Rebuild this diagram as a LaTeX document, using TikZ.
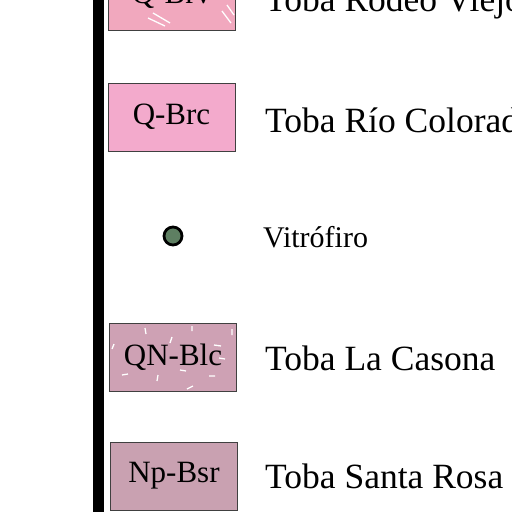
\documentclass[tikz,border=0pt]{standalone}
\usepackage{fontspec}
\setmainfont{Liberation Serif}
\usepackage{xcolor}
\definecolor{brvpink}{RGB}{241,168,190}
\definecolor{brcpink}{RGB}{243,170,204}
\definecolor{blcmauve}{RGB}{206,161,180}
\definecolor{bsrmauve}{RGB}{201,161,177}
\definecolor{vitgreen}{RGB}{94,127,98}

\begin{document}
\begin{tikzpicture}[
    x=1pt, y=-1pt,
    unitbox/.style={draw=black!75, line width=0.8pt, minimum width=127pt, minimum height=68pt, inner sep=0pt, font=\fontsize{31}{34}\selectfont},
    legendtext/.style={anchor=base west, inner sep=0pt, font=\fontsize{35.5}{40}\selectfont},
    speck/.style={white, line width=1.3pt},
]
\useasboundingbox (0,0) rectangle (512,512);
\clip (0,0) rectangle (512,512);

% column bar
\fill[black] (93,-2) rectangle (104,514);

% units
\node[unitbox, fill=brvpink] (brv) at (171.5,-4) {Q-Brv};
\node[unitbox, fill=brcpink] (brc) at (171.5,117) {Q-Brc};
\node[circle, draw=black, line width=2.8pt, fill=vitgreen, minimum size=18pt, inner sep=0pt] (vit) at (173,236) {};
\node[unitbox, fill=blcmauve] (blc) at (173,357) {QN-Blc};
\node[unitbox, fill=bsrmauve] (bsr) at (174,476) {Np-Bsr};

% streaks
\draw[speck] (148,18) -- (165,26) (153,13) -- (170,23) (222,11) -- (231,23) (227,5) -- (234,15);
\draw[speck] (145,328) -- (146,334) (170,343) -- (172,337) (192,326) -- (192,331)
  (232,329) -- (232,335) (112,349) -- (114,344) (214,345) -- (221,346)
  (122,375) -- (128,374) (157,381) -- (158,375) (180,370) -- (186,371)
  (209,376) -- (215,376) (187,389) -- (193,386) (219,358) -- (225,359);

% labels
\node[legendtext] (brvtxt) at (265,11) {Toba Rodeo Viejo};
\node[legendtext] (brctxt) at (265,132) {Toba Río Colorado};
\node[legendtext, font=\fontsize{30}{33}\selectfont] (vittxt) at (263,247) {Vitrófiro};
\node[legendtext] (blctxt) at (265,370) {Toba La Casona};
\node[legendtext] (bsrtxt) at (265,488) {Toba Santa Rosa};

\end{tikzpicture}
\end{document}
